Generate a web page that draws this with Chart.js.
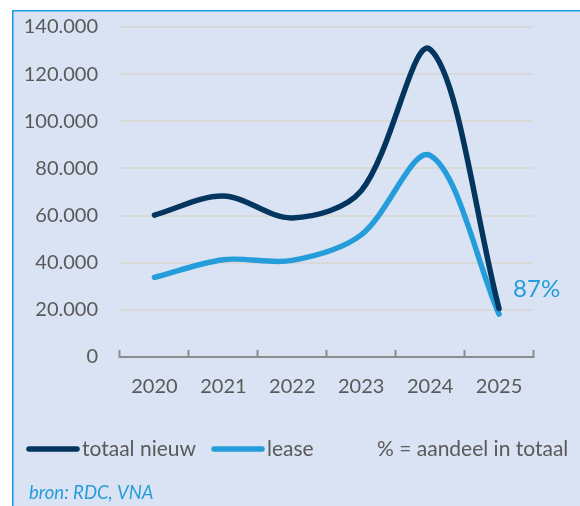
<!DOCTYPE html>
<html>
<head>
<meta charset="utf-8">
<script src="https://cdn.jsdelivr.net/npm/chart.js@4"></script>
<style>
  html, body { margin: 0; padding: 0; background: #fff; }
  #wrap { position: relative; width: 580px; height: 506px; }
</style>
</head>
<body>
<div id="wrap"><canvas id="chart" width="580" height="506"></canvas></div>
<script>
// Gegevens
const years = ['2020', '2021', '2022', '2023', '2024', '2025'];
const totaalNieuw = [60200, 68300, 59000, 70500, 130500, 20600];
const lease = [33800, 41300, 41000, 51800, 85500, 18200];
const seriesLabels = ['totaal nieuw', 'lease'];
const leaseShare = '87%';
const legendNote = '% = aandeel in totaal';
const sourceText = 'bron: RDC, VNA';

const navy = '#03355f';
const sky = '#269ddb';
const grey = '#595959';
const fontFamily = 'Lato, "Open Sans", sans-serif';

// Achtergrond met blauwe rand links en boven
const backgroundPlugin = {
    id: 'panel',
    beforeDraw(chart) {
        const ctx = chart.ctx;
        ctx.save();
        ctx.fillStyle = '#ffffff';
        ctx.fillRect(0, 0, chart.width, chart.height);
        ctx.fillStyle = '#dae3f3';
        ctx.fillRect(12, 10, chart.width - 12, chart.height - 10);
        ctx.strokeStyle = '#1f9de3';
        ctx.lineWidth = 1.6;
        ctx.beginPath();
        ctx.moveTo(12.8, chart.height);
        ctx.lineTo(12.8, 10.8);
        ctx.lineTo(chart.width, 10.8);
        ctx.stroke();
        ctx.restore();
    }
};

// Legenda, percentage en bron
const extrasPlugin = {
    id: 'extras',
    afterDraw(chart) {
        const ctx = chart.ctx;
        ctx.save();

        // percentage naast laatste punt van lease
        const leaseMeta = chart.getDatasetMeta(1);
        const last = leaseMeta.data[leaseMeta.data.length - 1];
        ctx.font = '24px ' + fontFamily;
        ctx.fillStyle = sky;
        ctx.textAlign = 'left';
        ctx.textBaseline = 'middle';
        ctx.fillText(leaseShare, last.x + 14, last.y - 25);

        // legenda
        const legendY = 449;
        const items = [
            { x: 27, color: navy, text: seriesLabels[0] },
            { x: 212, color: sky, text: seriesLabels[1] }
        ];
        ctx.lineCap = 'round';
        ctx.lineWidth = 5.5;
        ctx.font = '21px ' + fontFamily;
        items.forEach(item => {
            ctx.strokeStyle = item.color;
            ctx.beginPath();
            ctx.moveTo(item.x + 2, legendY);
            ctx.lineTo(item.x + 50, legendY);
            ctx.stroke();
            ctx.fillStyle = grey;
            ctx.fillText(item.text, item.x + 55, legendY);
        });
        ctx.fillText(legendNote, 377, legendY);

        // bron
        ctx.font = 'italic 18.5px ' + fontFamily;
        ctx.fillStyle = sky;
        ctx.fillText(sourceText, 29, 493);
        ctx.restore();
    }
};

const ctx = document.getElementById('chart').getContext('2d');
new Chart(ctx, {
    type: 'line',
    data: {
        labels: years,
        datasets: [
            {
                label: seriesLabels[0],
                data: totaalNieuw,
                borderColor: navy,
                borderWidth: 5.5,
                borderCapStyle: 'round',
                pointRadius: 0,
                tension: 0.33,
                fill: false
            },
            {
                label: seriesLabels[1],
                data: lease,
                borderColor: sky,
                borderWidth: 5.5,
                borderCapStyle: 'round',
                pointRadius: 0,
                tension: 0.33,
                fill: false
            }
        ]
    },
    options: {
        responsive: false,
        animation: false,
        layout: { padding: { top: 27, right: 46.5, bottom: 0, left: 0 } },
        plugins: {
            legend: { display: false },
            tooltip: { enabled: false }
        },
        scales: {
            x: {
                offset: true,
                grid: {
                    offset: true,
                    drawOnChartArea: false,
                    drawTicks: true,
                    tickLength: -7,
                    tickWidth: 2,
                    tickColor: '#8c8c8c'
                },
                border: { display: true, color: '#8c8c8c', width: 2 },
                ticks: {
                    color: grey,
                    padding: 25,
                    font: { family: fontFamily, size: 20 }
                },
                afterFit(scale) {
                    scale.height = 149;
                    scale.paddingLeft = 0;
                    scale.paddingRight = 0;
                }
            },
            y: {
                min: 0,
                max: 140000,
                ticks: {
                    stepSize: 20000,
                    color: grey,
                    padding: 22,
                    font: { family: fontFamily, size: 20 },
                    callback: v => v.toLocaleString('nl-NL')
                },
                grid: { color: '#d9d9d9', lineWidth: 2, drawTicks: false },
                border: { display: false },
                afterFit(scale) {
                    scale.width = 120;
                    scale.paddingTop = 0;
                    scale.paddingBottom = 0;
                }
            }
        }
    },
    plugins: [backgroundPlugin, extrasPlugin]
});
</script>
</body>
</html>
